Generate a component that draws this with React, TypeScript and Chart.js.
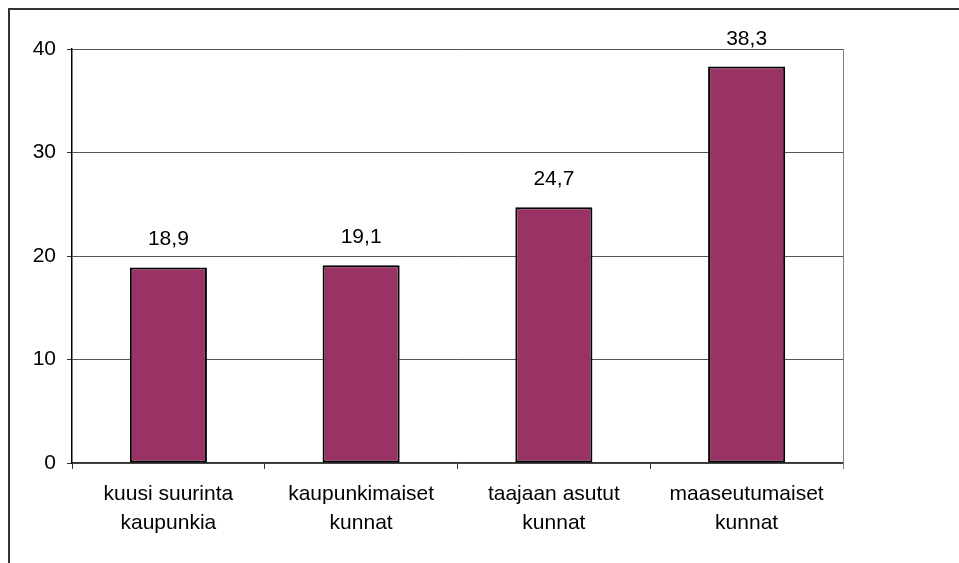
import React, { useEffect, useRef } from "react";
import { Chart, registerables } from "chart.js";

Chart.register(...registerables);

const categories: string[][] = [
  ["kuusi suurinta", "kaupunkia"],
  ["kaupunkimaiset", "kunnat"],
  ["taajaan asutut", "kunnat"],
  ["maaseutumaiset", "kunnat"],
];
const values: number[] = [18.9, 19.1, 24.7, 38.3];
const yTicks: number[] = [0, 10, 20, 30, 40];

const FONT = "'Liberation Sans', Arial, sans-serif";

const labelPlugin = {
  id: "valueLabels",
  afterDatasetsDraw(chart: any) {
    const ctx = chart.ctx;
    const meta = chart.getDatasetMeta(0);
    ctx.save();
    ctx.font = `21px ${FONT}`;
    ctx.fillStyle = "#000";
    ctx.textAlign = "center";
    ctx.textBaseline = "alphabetic";
    meta.data.forEach((bar: any, i: number) => {
      const txt = values[i].toFixed(1).replace(".", ",");
      ctx.fillText(txt, bar.x, bar.y - 22);
    });
    ctx.restore();
  },
  beforeDatasetsDraw(chart: any) {
    const { ctx, chartArea } = chart;
    ctx.save();
    ctx.strokeStyle = "#808080";
    ctx.lineWidth = 1;
    ctx.beginPath();
    ctx.moveTo(chartArea.right + 0.5, chartArea.top);
    ctx.lineTo(chartArea.right + 0.5, chartArea.bottom + 6);
    ctx.stroke();
    ctx.restore();
  },
};

export default function App() {
  const ref = useRef<HTMLCanvasElement | null>(null);

  useEffect(() => {
    if (!ref.current) return;
    const chart = new Chart(ref.current, {
      type: "bar",
      data: {
        labels: categories,
        datasets: [
          {
            data: values,
            backgroundColor: "#993366",
            borderColor: "#000000",
            borderWidth: 2,
            borderSkipped: false,
            categoryPercentage: 0.4,
            barPercentage: 1,
          },
        ],
      },
      options: {
        animation: false,
        responsive: false,
        maintainAspectRatio: false,
        layout: { padding: { top: 49, right: 116, bottom: 0, left: 0 } },
        plugins: {
          legend: { display: false },
          tooltip: { enabled: false },
        },
        scales: {
          x: {
            offset: true,
            grid: {
              offset: true,
              drawOnChartArea: false,
              drawTicks: true,
              tickLength: 6,
              tickColor: "#333",
            },
            border: { color: "#333", width: 1.5 },
            ticks: {
              color: "#000",
              font: { family: FONT, size: 21, lineHeight: 1.38 },
              padding: 11,
              maxRotation: 0,
              autoSkip: false,
            },
            afterFit: (s: any) => {
              s.height = 100;
            },
          },
          y: {
            min: 0,
            max: 40,
            afterBuildTicks: (s: any) => {
              s.ticks = yTicks.map((v) => ({ value: v }));
            },
            grid: {
              color: "#555",
              lineWidth: 1,
              tickLength: 5,
              tickColor: "#333",
            },
            border: { color: "#000", width: 1.5 },
            ticks: {
              color: "#000",
              font: { family: FONT, size: 21 },
              padding: 11,
            },
            afterFit: (s: any) => {
              s.width = 72;
            },
          },
        },
      },
      plugins: [labelPlugin],
    });
    return () => chart.destroy();
  }, []);

  return (
    <div style={{ position: "absolute", left: 0, top: 0, width: 959, height: 563, overflow: "hidden", background: "#fff" }}>
      <canvas ref={ref} width={959} height={563} style={{ position: "absolute", left: 0, top: 0 }} />
      <div
        style={{
          position: "absolute",
          left: 8,
          top: 8,
          width: 1000,
          height: 700,
          border: "2px solid #333",
          pointerEvents: "none",
        }}
      />
    </div>
  );
}
